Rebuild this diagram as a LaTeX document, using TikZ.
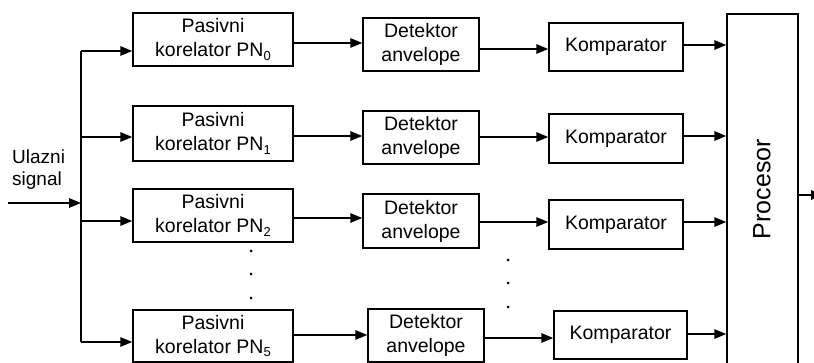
\documentclass[tikz,border=0pt]{standalone}
\usepackage{fontspec}
\setmainfont{Liberation Sans}
\usetikzlibrary{arrows.meta}
\tikzset{
  blk/.style={draw, line width=1.5pt, inner sep=0pt, align=center, font=\fontsize{19.5}{24}\selectfont},
  arr/.style={line width=1.5pt, -{Triangle[length=12pt,width=9.5pt]}},
  ln/.style={line width=1.5pt},
  dotmark/.style={fill=black, circle, inner sep=0pt, minimum size=3pt},
  lbl/.style={inner sep=0pt, align=left, font=\fontsize{19}{22}\selectfont}
}
\newcommand{\subdown}[1]{\raisebox{-0.35ex}{\fontsize{13}{13}\selectfont #1}}
\begin{document}
\begin{tikzpicture}[x=1pt,y=-1pt]
\useasboundingbox (0,0) rectangle (814,363);
% correlators
\node[blk, minimum width=160pt, minimum height=53pt] (c0) at (213,39.5) {Pasivni\\korelator PN\subdown{0}};
\node[blk, minimum width=160pt, minimum height=55pt] (c1) at (213,133.5) {Pasivni\\korelator PN\subdown{1}};
\node[blk, minimum width=160pt, minimum height=53pt] (c2) at (213,215.5) {Pasivni\\korelator PN\subdown{2}};
\node[blk, minimum width=160pt, minimum height=52pt] (c5) at (213,336) {Pasivni\\korelator PN\subdown{5}};
% detectors
\node[blk, minimum width=116pt, minimum height=53pt] (d0) at (421,44.5) {Detektor\\anvelope};
\node[blk, minimum width=116pt, minimum height=53pt] (d1) at (421,137.5) {Detektor\\anvelope};
\node[blk, minimum width=116pt, minimum height=54pt] (d2) at (421,221) {Detektor\\anvelope};
\node[blk, minimum width=116pt, minimum height=53pt] (d5) at (426,335.5) {Detektor\\anvelope};
% comparators
\node[blk, minimum width=134pt, minimum height=48pt] (k0) at (616,47) {Komparator};
\node[blk, minimum width=134pt, minimum height=49pt] (k1) at (616,138.5) {Komparator};
\node[blk, minimum width=134pt, minimum height=49pt] (k2) at (616,224.5) {Komparator};
\node[blk, minimum width=133pt, minimum height=48pt] (k5) at (620.5,335) {Komparator};
% processor
\node[blk, minimum width=71pt, minimum height=420pt] (p) at (762.5,224) {};
\node[inner sep=0pt, rotate=90, font=\fontsize{25}{28}\selectfont] (plabel) at (762,189) {Procesor};
% input
\node[lbl, anchor=north west] (ul) at (12,150) {Ulazni\\signal};
\coordinate (in) at (8,203);
\coordinate (j) at (81,203);
\coordinate (s0) at (81,51);
\coordinate (s1) at (81,137);
\coordinate (s2) at (81,221);
\coordinate (s5) at (81,342);
\draw[arr] (in) -- (j);
\draw[ln] (s0) -- (s5);
\draw[arr] (s0) -- (s0 -| c0.west);
\draw[arr] (s1) -- (s1 -| c1.west);
\draw[arr] (s2) -- (s2 -| c2.west);
\draw[arr] (s5) -- (s5 -| c5.west);
% correlator -> detector
\draw[arr] (c0.east |- 0,43) -- (d0.west |- 0,43);
\draw[arr] (c1.east |- 0,136) -- (d1.west |- 0,136);
\draw[arr] (c2.east |- 0,218) -- (d2.west |- 0,218);
\draw[arr] (c5.east |- 0,335) -- (d5.west |- 0,335);
% detector -> comparator
\draw[arr] (d0.east |- 0,49) -- (k0.west |- 0,49);
\draw[arr] (d1.east |- 0,137) -- (k1.west |- 0,137);
\draw[arr] (d2.east |- 0,222) -- (k2.west |- 0,222);
\draw[arr] (d5.east |- 0,338) -- (k5.west |- 0,338);
% comparator -> processor
\draw[arr] (k0.east |- 0,45) -- (p.west |- 0,45);
\draw[arr] (k1.east |- 0,136) -- (p.west |- 0,136);
\draw[arr] (k2.east |- 0,222) -- (p.west |- 0,222);
\draw[arr] (k5.east |- 0,334) -- (p.west |- 0,334);
% output
\coordinate (out) at (823,195);
\draw[arr] (p.east |- out) -- (out);
% dots
\node[dotmark] (da) at (251,251) {};
\node[dotmark] (db) at (251,274) {};
\node[dotmark] (dc) at (251,298) {};
\node[dotmark] (dd) at (508,260) {};
\node[dotmark] (de) at (508,283) {};
\node[dotmark] (df) at (508,307) {};
\end{tikzpicture}
\end{document}
